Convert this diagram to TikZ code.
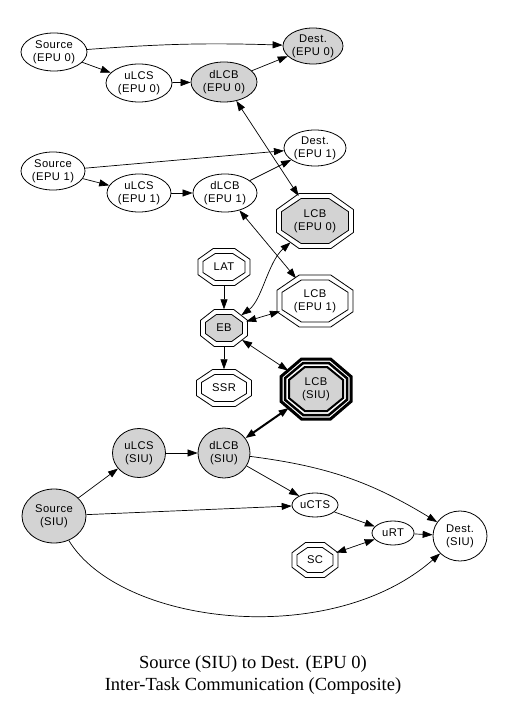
\documentclass[tikz,border=0pt]{standalone}
\usepackage{fontspec}
\setmainfont{Liberation Sans}
\newfontfamily\labfont[LetterSpace=4]{Liberation Sans}
\newfontfamily\ttlfont{Liberation Serif}
\usetikzlibrary{arrows.meta,shapes.geometric}
\definecolor{gv}{HTML}{D3D3D3}
\tikzset{
 lab/.style={font=\labfont\fontsize{11.2}{13}\selectfont, align=center, inner sep=0pt},
 ell/.style={ellipse, draw, line width=0.8pt, lab},
 octn/.style={ellipse, lab},
 arr/.style={line width=0.7pt, -{Triangle[length=10pt,width=7pt]}},
 biarr/.style={line width=0.7pt, {Triangle[length=10pt,width=7pt]}-{Triangle[length=10pt,width=7pt]}},
}
\newcommand\octpoly[5]{\path[#5] ({#1+(#3)},{#2-0.414*(#4)}) -- ({#1+(#3)},{#2+0.414*(#4)}) -- ({#1+0.414*(#3)},{#2+(#4)}) -- ({#1-0.414*(#3)},{#2+(#4)}) -- ({#1-(#3)},{#2+0.414*(#4)}) -- ({#1-(#3)},{#2-0.414*(#4)}) -- ({#1-0.414*(#3)},{#2-(#4)}) -- ({#1+0.414*(#3)},{#2-(#4)}) -- cycle;}
\newcommand\dbloct[5]{%
 \octpoly{#1}{#2}{#3}{#4}{draw,line width=0.8pt,fill=white}
 \octpoly{#1}{#2}{#3-5}{#4-5}{draw,line width=0.8pt,fill=#5}}
\begin{document}
\begin{tikzpicture}[x=1pt,y=-1pt]
\useasboundingbox (0,0) rectangle (505,708);
% octagon outlines
\dbloct{315}{221}{38.5}{27.5}{gv}
\dbloct{224}{267}{26}{18.5}{white}
\dbloct{224}{328}{23.5}{18.5}{gv}
\dbloct{315}{301}{38}{26}{white}
\dbloct{224}{388}{27.5}{18.5}{white}
\dbloct{315}{560}{23}{17.5}{white}
\octpoly{316}{389}{35}{30}{draw,line width=3pt,fill=white}
\octpoly{316}{389}{31}{26}{draw,line width=2.5pt,fill=white}
\octpoly{316}{389}{27}{22}{draw,line width=2pt,fill=gv}
% ellipse nodes
\node[ell, minimum width=66pt, minimum height=38pt] (s0) at (54,52) {Source\\(EPU 0)};
\node[ell, fill=gv, minimum width=60pt, minimum height=36pt] (d0) at (313,46) {Dest.\\(EPU 0)};
\node[ell, minimum width=66pt, minimum height=38pt] (u0) at (139,83) {uLCS\\(EPU 0)};
\node[ell, fill=gv, minimum width=66pt, minimum height=40pt] (l0) at (224,82) {dLCB\\(EPU 0)};
\node[ell, minimum width=62pt, minimum height=36pt] (d1) at (315,148) {Dest.\\(EPU 1)};
\node[ell, minimum width=64pt, minimum height=38pt] (s1) at (53,171) {Source\\(EPU 1)};
\node[ell, minimum width=64pt, minimum height=38pt] (u1) at (139,193) {uLCS\\(EPU 1)};
\node[ell, minimum width=64pt, minimum height=38pt] (l1) at (225,193) {dLCB\\(EPU 1)};
\node[ell, fill=gv, minimum width=53pt, minimum height=49pt] (uS) at (139,453) {uLCS\\(SIU)};
\node[ell, fill=gv, minimum width=52pt, minimum height=50pt] (dS) at (224,453) {dLCB\\(SIU)};
\node[ell, fill=gv, minimum width=64pt, minimum height=54pt] (sS) at (54,516) {Source\\(SIU)};
\node[ell, minimum width=46pt, minimum height=24pt] (ucts) at (315,505) {uCTS};
\node[ell, minimum width=42pt, minimum height=24pt] (urt) at (393,533) {uRT};
\node[ell, minimum width=54pt, minimum height=50pt] (dSIU) at (460,536) {Dest.\\(SIU)};
% octagon nodes
\node[octn, minimum width=77pt, minimum height=55pt] (lcb0) at (315,221) {LCB\\(EPU 0)};
\node[octn, minimum width=52pt, minimum height=37pt] (lat) at (224,267) {LAT};
\node[octn, minimum width=47pt, minimum height=37pt] (eb) at (224,328) {EB};
\node[octn, minimum width=76pt, minimum height=52pt] (lcb1) at (315,301) {LCB\\(EPU 1)};
\node[octn, minimum width=55pt, minimum height=37pt] (ssr) at (224,388) {SSR};
\node[octn, minimum width=70pt, minimum height=60pt] (lcbs) at (316,389) {LCB\\(SIU)};
\node[octn, minimum width=46pt, minimum height=35pt] (sc) at (315,560) {SC};
% edges
\draw[arr] (s0) to[bend left=3] (d0);
\draw[arr] (s0) -- (u0);
\draw[arr] (u0) -- (l0);
\draw[arr] (l0) -- (d0);
\draw[biarr] (l0) -- (lcb0);
\draw[arr] (s1) -- (d1);
\draw[arr] (s1) -- (u1);
\draw[arr] (u1) -- (l1);
\draw[arr] (l1) -- (d1);
\draw[biarr] (l1) -- (lcb1);
\draw[arr] (lat) -- (eb);
\draw[biarr] (eb) .. controls (262,300) and (268,262) .. (lcb0);
\draw[biarr] (eb) -- (lcb1);
\draw[biarr] (eb) -- (lcbs);
\draw[arr] (eb) -- (ssr);
\draw[biarr, line width=2pt] (dS) -- (lcbs);
\draw[arr] (sS) -- (uS);
\draw[arr] (uS) -- (dS);
\draw[arr] (dS) -- (ucts);
\draw[arr] (dS) to[bend left=12] (dSIU);
\draw[arr] (sS) -- (ucts);
\draw[arr] (ucts) -- (urt);
\draw[arr] (urt) -- (dSIU);
\draw[biarr] (sc) -- (urt);
\draw[arr] (sS) .. controls (120,625) and (330,650) .. (dSIU);
% title
\node[font=\ttlfont\fontsize{18.5}{22}\selectfont, align=center] (title) at (253,675) {Source (SIU) to Dest. (EPU 0)\\Inter-Task Communication (Composite)};
\end{tikzpicture}
\end{document}
